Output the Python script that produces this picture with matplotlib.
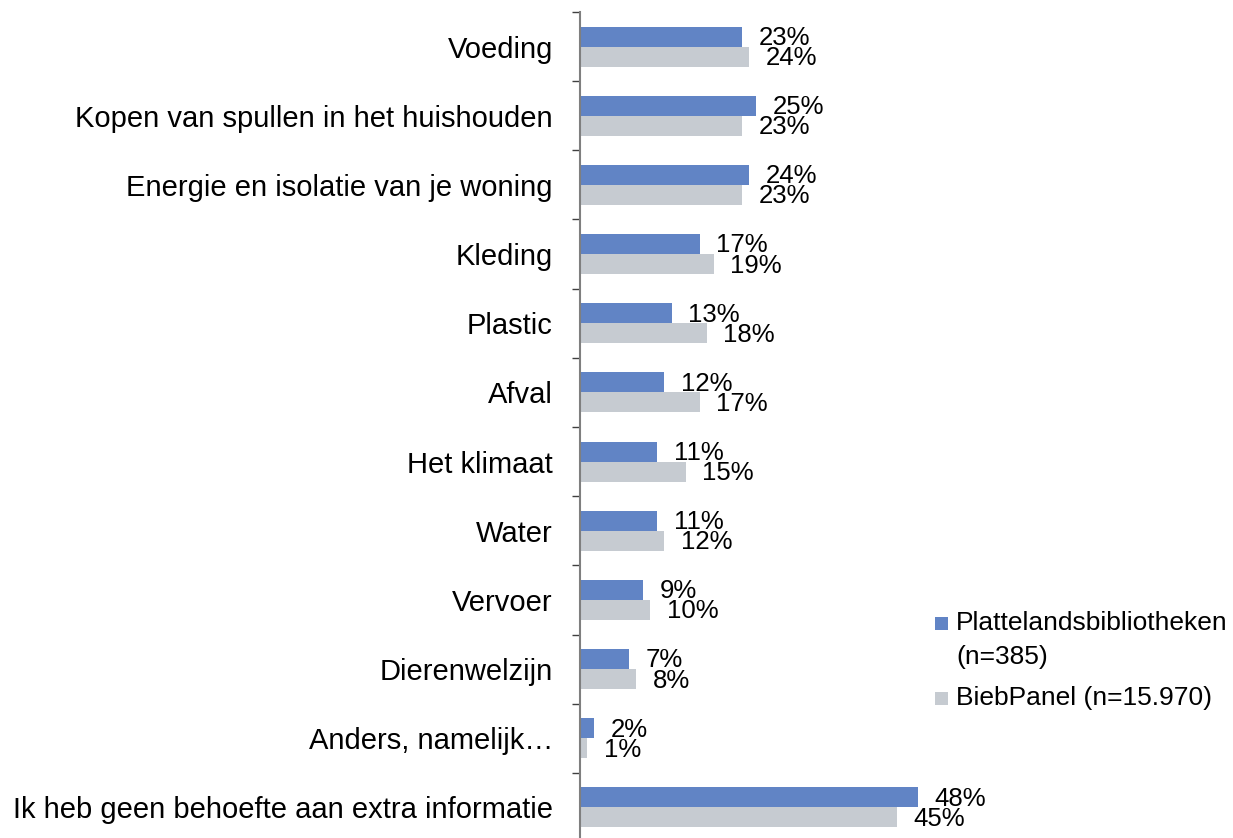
import matplotlib

matplotlib.use("Agg")
import matplotlib.pyplot as plt
from matplotlib.patches import Rectangle
import numpy as np

plt.rcParams["font.family"] = ["Liberation Sans", "DejaVu Sans"]

CATEGORIES = ["Voeding", "Kopen van spullen in het huishouden",
              "Energie en isolatie van je woning", "Kleding", "Plastic", "Afval",
              "Het klimaat", "Water", "Vervoer", "Dierenwelzijn", "Anders, namelijk…",
              "Ik heb geen behoefte aan extra informatie"]
PLATTELAND = [23, 25, 24, 17, 13, 12, 11, 11, 9, 7, 2, 48]
BIEBPANEL = [24, 23, 23, 19, 18, 17, 15, 12, 10, 8, 1, 45]
SERIES = ["Plattelandsbibliotheken\n(n=385)", "BiebPanel (n=15.970)"]
COLORS = ["#6184C5", "#C6CBD1"]

W, H = 1233, 838


def main():
    fig = plt.figure(figsize=(W / 100, H / 100), dpi=100)
    # axes placed in pixel terms: y axis at x=580, categories 69 px apart
    ax = fig.add_axes([580 / W, -4 / H, 60 * 7.04 / W, 830 / H])
    y = np.arange(len(CATEGORIES))
    bh = 0.29
    for vals, off, col in ((PLATTELAND, -bh / 2, COLORS[0]), (BIEBPANEL, bh / 2, COLORS[1])):
        ax.barh(y + off, vals, height=bh, color=col, edgecolor="none")
        for yi, v in zip(y + off, vals):
            ax.annotate(f"{v}%", (v, yi), xytext=(12, -1), textcoords="offset points",
                        ha="left", va="center", fontsize=18.5, color="black")

    ax.set_xlim(0, 60)
    ax.set_ylim(len(CATEGORIES) - 0.5, -0.5)
    ax.set_yticks(y)
    ax.set_yticklabels(CATEGORIES, fontsize=21)
    ax.set_yticks(np.arange(len(CATEGORIES) + 1) - 0.5, minor=True)
    ax.tick_params(axis="y", which="major", length=0, pad=19.5)
    ax.tick_params(axis="y", which="minor", length=6, width=1, color="#404040", direction="out")
    ax.set_xticks([])
    for s in ("top", "right", "bottom"):
        ax.spines[s].set_visible(False)
    ax.spines["left"].set_color("#7f7f7f")
    ax.spines["left"].set_linewidth(1.5)

    # legend, drawn by hand so the swatch sits on the first text line
    for (label, col, ty) in ((SERIES[0], COLORS[0], 622), (SERIES[1], COLORS[1], 697)):
        fig.patches.append(Rectangle((935 / W, 1 - (ty + 8) / H), 13 / W, 13 / H,
                                     transform=fig.transFigure, fc=col, ec="none"))
        fig.text(956 / W, 1 - (ty - 11) / H, label, ha="left", va="top", fontsize=19,
                 linespacing=1.55, color="black")

    fig.savefig("out.png", dpi=100, facecolor="white")


if __name__ == "__main__":
    main()
